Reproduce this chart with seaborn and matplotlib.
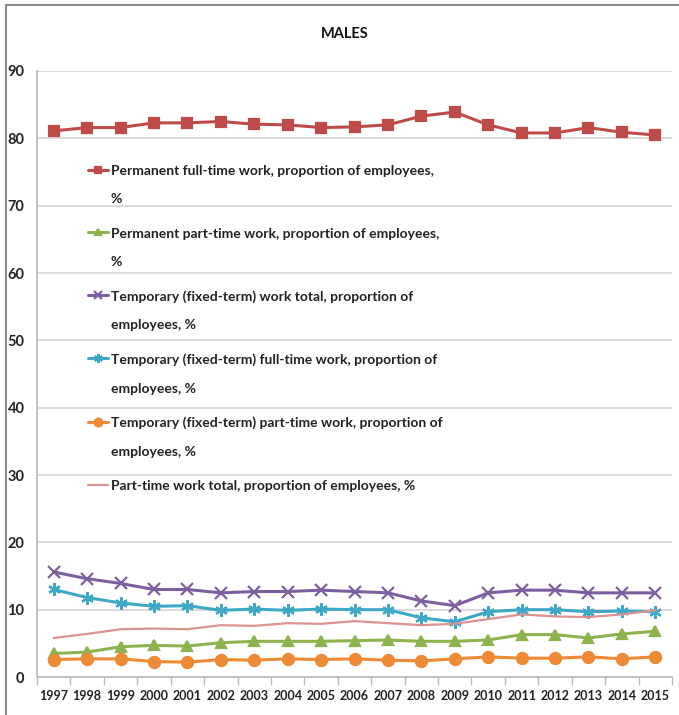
import matplotlib
matplotlib.use("Agg")
import matplotlib.pyplot as plt
from matplotlib.lines import Line2D
import seaborn as sns
import pandas as pd

years = list(range(1997, 2016))

perm_full = [81.1, 81.6, 81.6, 82.3, 82.3, 82.5, 82.1, 82.0, 81.6, 81.7,
             82.0, 83.3, 83.9, 82.0, 80.8, 80.8, 81.6, 80.9, 80.5]
perm_part = [3.5, 3.7, 4.5, 4.7, 4.6, 5.1, 5.3, 5.3, 5.3, 5.4,
             5.5, 5.3, 5.3, 5.5, 6.3, 6.3, 5.8, 6.4, 6.8]
temp_total = [15.6, 14.6, 13.9, 13.0, 13.0, 12.5, 12.7, 12.7, 12.9, 12.7,
              12.5, 11.3, 10.6, 12.5, 12.9, 12.9, 12.5, 12.5, 12.5]
temp_full = [13.0, 11.8, 11.0, 10.5, 10.6, 9.9, 10.1, 9.9, 10.1, 10.0,
             10.0, 8.8, 8.2, 9.7, 10.0, 10.0, 9.7, 9.8, 9.7]
temp_part = [2.6, 2.7, 2.7, 2.3, 2.2, 2.6, 2.5, 2.7, 2.6, 2.7,
             2.5, 2.4, 2.7, 3.0, 2.8, 2.8, 3.0, 2.7, 3.0]
part_total = [5.8, 6.4, 7.1, 7.2, 7.1, 7.7, 7.6, 8.0, 7.9, 8.3,
              8.0, 7.7, 7.9, 8.6, 9.3, 9.0, 8.9, 9.3, 9.9]

labels = [
    "Permanent full-time work, proportion of employees,\n%",
    "Permanent part-time work, proportion of employees,\n%",
    "Temporary (fixed-term) work total, proportion of\nemployees, %",
    "Temporary (fixed-term) full-time work, proportion of\nemployees, %",
    "Temporary (fixed-term) part-time work, proportion of\nemployees, %",
    "Part-time work total, proportion of employees, %",
]
series = [perm_full, perm_part, temp_total, temp_full, temp_part, part_total]
colors = ["#BE4B48", "#8DB34E", "#7D5FA0", "#3FA8C4", "#EE8A35", "#DB9290"]
markers = ["s", "^", "x", (6, 2, 0), "o", None]
msizes = [6.5, 7, 8, 9, 8, 0]
lwidths = [2.2, 2.2, 2.2, 2.2, 2.2, 1.6]

sns.set_theme(style="white")
plt.rcParams["font.family"] = ["Lato", "DejaVu Sans"]

fig = plt.figure(figsize=(6.79, 7.15), dpi=100)
ax = fig.add_axes([0.0545, 0.0531, 0.9352, 0.8476])

for vals, lab, col, mk, ms, lw in zip(series, labels, colors, markers, msizes, lwidths):
    df = pd.DataFrame({"year": years, "value": vals})
    kw = dict(marker=mk, markersize=ms, markeredgecolor=col, markeredgewidth=1.6) if mk else {}
    sns.lineplot(data=df, x="year", y="value", ax=ax, color=col, linewidth=lw,
                 label=lab, **kw)

ax.set_xlim(years[0] - 0.5, years[-1] + 0.5)
ax.set_ylim(0, 90)
ax.set_yticks(range(0, 91, 10))
ax.set_xticks(years)
ax.set_xticks([y - 0.5 for y in years] + [years[-1] + 0.5], minor=True)
ax.set_xticklabels([str(y) for y in years], fontsize=9, fontweight="bold", color="#222222")
ax.tick_params(axis="y", labelsize=10.5, labelcolor="#222222", length=0, pad=9)
for t in ax.get_yticklabels():
    t.set_fontweight("bold")
ax.tick_params(axis="x", which="major", length=0, pad=9)
ax.tick_params(axis="x", which="minor", length=6, width=1, color="#BBBBBB", bottom=True)
ax.set_xlabel("")
ax.set_ylabel("")
ax.grid(axis="y", color="#D4D4D4", linewidth=1.2)
ax.grid(axis="x", visible=False)
for side in ["top", "right"]:
    ax.spines[side].set_visible(False)
ax.spines["left"].set_color("#BBBBBB")
ax.spines["bottom"].set_color("#BBBBBB")

handles, labs = ax.get_legend_handles_labels()
leg = ax.legend(handles, labs, loc="upper left", bbox_to_anchor=(0.08, 0.845),
                frameon=False, fontsize=10, handlelength=1.45, handletextpad=0.2,
                labelspacing=1.6, markerscale=0.7, borderpad=0, borderaxespad=0)
for t in leg.get_texts():
    t.set_color("#222222")
    t.set_fontweight("bold")
    t.set_linespacing(2.64)
# keep each legend key level with the first line of its label
for column in leg._legend_handle_box.get_children():
    for item in column.get_children():
        item.align = "top"

fig.text(0.508, 0.953, "MALES", ha="center", va="center", fontsize=10.5,
         fontweight="bold", color="#111111")

# outer chart frame (left and top edges)
fig.add_artist(Line2D([6 / 679, 6 / 679], [0, 1 - 5 / 715], transform=fig.transFigure,
                      color="#8A8A8A", linewidth=1.5))
fig.add_artist(Line2D([6 / 679, 1], [1 - 5 / 715, 1 - 5 / 715], transform=fig.transFigure,
                      color="#8A8A8A", linewidth=1.5))

fig.savefig("out.png", dpi=100, facecolor="white")
